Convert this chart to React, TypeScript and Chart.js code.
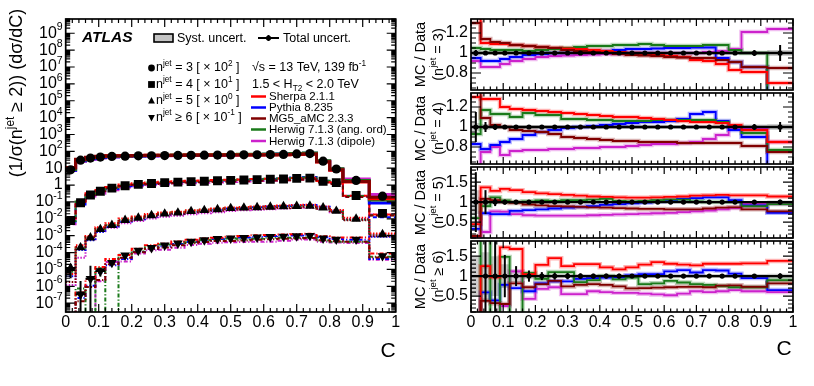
import React, { useEffect, useRef } from "react";
import { Chart, registerables } from "chart.js";

Chart.register(...registerables);

const FONT = "'Liberation Sans', Arial, Helvetica, sans-serif";

// ---------------- binning & tick labels ----------------
const binEdges = [0, 0.03, 0.06, 0.09, 0.12, 0.16, 0.2, 0.24, 0.28, 0.32, 0.36, 0.4, 0.44, 0.48, 0.52, 0.56, 0.6, 0.64, 0.68, 0.72, 0.76, 0.8, 0.84, 0.92, 1.0];
const xTickValues = [0, 0.1, 0.2, 0.3, 0.4, 0.5, 0.6, 0.7, 0.8, 0.9, 1];
const xTickLabels = ["0", "0.1", "0.2", "0.3", "0.4", "0.5", "0.6", "0.7", "0.8", "0.9", "1"];
const logTickExponents = [-7, -6, -5, -4, -3, -2, -1, 0, 1, 2, 3, 4, 5, 6, 7, 8, 9];
const ratioTicksNarrow = [0.8, 1, 1.2];
const ratioLabelsNarrow = ["0.8", "1", "1.2"];
const ratioTicksWide = [0.5, 1, 1.5];
const ratioLabelsWide = ["0.5", "1", "1.5"];

// ---------------- measured data (already multiplied by the legend factors) ----------------
const dataN3 = [8, 30, 40, 46, 50, 52, 54, 55, 56, 57, 58, 59, 60, 61, 62, 63, 64, 66, 70, 74, 26, 9, 1.9, 0.22];
const dataN4 = [0.008, 0.09, 0.26, 0.43, 0.66, 0.92, 1.1, 1.25, 1.4, 1.5, 1.6, 1.7, 1.8, 1.9, 2.0, 2.1, 2.2, 2.3, 2.5, 2.6, 1.7, 1.4, 0.24, 0.021];
const dataN5 = [1.2e-5, 2.0e-4, 7.6e-4, 2.4e-3, 4.2e-3, 8.3e-3, 0.0114, 0.016, 0.02, 0.023, 0.028, 0.032, 0.036, 0.042, 0.045, 0.048, 0.051, 0.054, 0.056, 0.058, 0.046, 0.029, 0.01, 1.2e-3];
const dataN6 = [null, 3.4e-7, 2.8e-6, 8.0e-6, 2.5e-5, 6.8e-5, 1.3e-4, 1.9e-4, 2.7e-4, 3.5e-4, 4.5e-4, 5.5e-4, 6.5e-4, 7.0e-4, 7.5e-4, 8.0e-4, 8.5e-4, 9.0e-4, 9.5e-4, 1.0e-3, 7.0e-4, 6.0e-4, 6.0e-4, 6.3e-5];

// relative total uncertainty of the data
const errN3 = [0.03, 0.02, 0.015, 0.015, 0.015, 0.015, 0.015, 0.015, 0.015, 0.015, 0.015, 0.015, 0.015, 0.015, 0.015, 0.015, 0.015, 0.015, 0.015, 0.015, 0.02, 0.02, 0.03, 0.08];
const errN4 = [0.15, 0.05, 0.03, 0.02, 0.02, 0.02, 0.02, 0.02, 0.02, 0.02, 0.02, 0.02, 0.02, 0.02, 0.02, 0.02, 0.02, 0.02, 0.02, 0.02, 0.02, 0.02, 0.03, 0.05];
const errN5 = [0.75, 0.3, 0.1, 0.06, 0.05, 0.04, 0.03, 0.03, 0.03, 0.03, 0.03, 0.03, 0.03, 0.03, 0.03, 0.03, 0.03, 0.03, 0.03, 0.03, 0.03, 0.03, 0.04, 0.06];
const errN6 = [0, 5, 5, 0.53, 0.25, 0.14, 0.1, 0.09, 0.08, 0.07, 0.06, 0.06, 0.06, 0.05, 0.05, 0.05, 0.05, 0.05, 0.05, 0.05, 0.05, 0.05, 0.05, 0.07];

// relative systematic uncertainty (grey band)
const sysN3 = [0.03, 0.02, 0.02, 0.02, 0.015, 0.015, 0.015, 0.015, 0.015, 0.015, 0.015, 0.015, 0.015, 0.015, 0.015, 0.015, 0.015, 0.015, 0.015, 0.015, 0.02, 0.02, 0.02, 0.03];
const sysN4 = [0.04, 0.03, 0.02, 0.02, 0.02, 0.02, 0.02, 0.02, 0.02, 0.02, 0.02, 0.02, 0.02, 0.02, 0.02, 0.02, 0.02, 0.02, 0.02, 0.02, 0.02, 0.02, 0.025, 0.03];
const sysN5 = [0.3, 0.1, 0.05, 0.04, 0.04, 0.03, 0.03, 0.03, 0.03, 0.03, 0.03, 0.03, 0.03, 0.03, 0.03, 0.03, 0.03, 0.03, 0.03, 0.03, 0.03, 0.03, 0.03, 0.04];
const sysN6 = [0.5, 0.6, 0.5, 0.3, 0.15, 0.08, 0.06, 0.05, 0.05, 0.05, 0.05, 0.05, 0.05, 0.05, 0.05, 0.05, 0.05, 0.05, 0.05, 0.05, 0.05, 0.05, 0.05, 0.06];

// MC / Data ratios
const sherpaN3 = [1.4, 1.1, 1.09, 1.09, 1.08, 1.07, 1.06, 1.05, 1.045, 1.04, 1.03, 1.02, 1.01, 1.0, 0.99, 0.98, 0.97, 0.96, 0.93, 0.92, 0.89, 0.83, 0.81, 0.7];
const pythiaN3 = [0.95, 0.92, 0.92, 0.94, 0.96, 0.98, 0.99, 1.0, 1.0, 1.01, 1.02, 1.02, 1.03, 1.04, 1.04, 1.045, 1.05, 1.05, 1.055, 1.055, 0.95, 0.91, 0.86, 0.4];
const mg5N3 = [1.3, 1.14, 1.11, 1.1, 1.08, 1.07, 1.06, 1.05, 1.03, 1.02, 1.01, 1.0, 0.99, 0.98, 0.975, 0.97, 0.96, 0.955, 0.95, 0.95, 0.93, 0.91, 0.86, 0.85];
const herwigAoN3 = [1.05, 1.04, 1.03, 1.03, 1.03, 1.02, 1.03, 1.04, 1.05, 1.06, 1.07, 1.07, 1.08, 1.08, 1.09, 1.08, 1.07, 1.07, 1.07, 1.08, 1.08, 1.03, 1.0, 0.6];
const herwigDiN3 = [0.92, 0.86, 0.86, 0.89, 0.92, 0.94, 0.96, 0.97, 0.975, 0.98, 0.985, 0.99, 0.99, 1.0, 1.0, 1.0, 1.0, 1.0, 1.0, 1.01, 1.02, 1.04, 1.21, 1.24];

const sherpaN4 = [1.3, 1.28, 1.28, 1.2, 1.18, 1.17, 1.16, 1.15, 1.14, 1.13, 1.12, 1.11, 1.1, 1.1, 1.09, 1.08, 1.07, 1.06, 1.05, 1.05, 1.04, 1.02, 0.97, 0.85];
const pythiaN4 = [0.83, 0.78, 0.82, 0.85, 0.88, 0.92, 0.95, 0.97, 0.99, 1.0, 1.01, 1.02, 1.03, 1.04, 1.05, 1.05, 1.06, 1.08, 1.13, 1.15, 1.06, 0.97, 0.9, 0.6];
const mg5N4 = [1.4, 1.09, 1.02, 1.0, 0.97, 0.96, 0.95, 0.93, 0.9, 0.89, 0.88, 0.87, 0.86, 0.86, 0.85, 0.85, 0.85, 0.84, 0.84, 0.84, 0.84, 0.84, 0.81, 0.75];
const herwigAoN4 = [0.93, 1.17, 1.13, 1.13, 1.1, 1.14, 1.12, 1.12, 1.08, 1.08, 1.07, 1.07, 1.06, 1.06, 1.06, 1.07, 1.07, 1.07, 1.07, 1.07, 1.05, 1.0, 0.94, 0.77];
const herwigDiN4 = [0.6, 0.75, 0.8, 0.72, 0.76, 0.77, 0.77, 0.78, 0.78, 0.79, 0.79, 0.8, 0.8, 0.81, 0.82, 0.83, 0.83, 0.84, 0.85, 0.88, 0.92, 0.99, 0.98, 0.85];

const sherpaN5 = [0.45, 1.37, 1.28, 1.33, 1.3, 1.25, 1.22, 1.2, 1.18, 1.16, 1.14, 1.13, 1.12, 1.11, 1.11, 1.12, 1.13, 1.14, 1.16, 1.17, 1.18, 1.17, 1.17, 1.14];
const pythiaN5 = [0.33, 0.72, 0.7, 0.7, 0.78, 0.8, 0.82, 0.84, 0.86, 0.88, 0.9, 0.93, 0.95, 0.97, 0.99, 1.02, 1.05, 1.08, 1.1, 1.12, 1.12, 1.05, 0.92, 0.73];
const mg5N5 = [0.15, 1.08, 1.05, 1.0, 0.98, 0.94, 0.92, 0.9, 0.89, 0.88, 0.87, 0.86, 0.85, 0.84, 0.83, 0.83, 0.82, 0.82, 0.82, 0.84, 0.86, 0.87, 0.82, 0.77];
const herwigAoN5 = [0.6, 0.9, 1.12, 1.04, 1.0, 1.02, 1.04, 1.03, 1.05, 1.05, 1.06, 1.08, 1.03, 1.02, 1.03, 1.05, 1.06, 1.06, 1.02, 1.0, 1.0, 1.0, 0.9, 0.95];
const herwigDiN5 = [0.1, 0.25, 0.77, 0.76, 0.7, 0.67, 0.66, 0.66, 0.66, 0.66, 0.67, 0.68, 0.69, 0.7, 0.71, 0.72, 0.73, 0.75, 0.77, 0.79, 0.82, 0.85, 0.96, 0.96];

const sherpaN6 = [0, 1.25, 0.97, 1.72, 1.68, 1.05, 1.28, 1.45, 1.25, 1.3, 1.3, 1.22, 1.17, 1.22, 1.29, 1.35, 1.31, 1.29, 1.27, 1.31, 1.31, 1.31, 1.32, 1.38];
const pythiaN6 = [0, 0.59, 0.39, 0.78, 0.7, 0.62, 0.82, 0.87, 0.87, 0.93, 0.95, 0.96, 0.97, 1.02, 1.05, 1.05, 1.12, 1.15, 1.09, 1.15, 1.14, 1.06, 0.95, 0.65];
const mg5N6 = [0, 0.38, 0.32, 0.3, 0.82, 0.72, 0.8, 0.88, 0.74, 0.78, 0.8, 0.78, 0.74, 0.69, 0.7, 0.71, 0.72, 0.73, 0.73, 0.72, 0.76, 0.77, 0.73, 0.82];
const herwigAoN6 = [0, 2.2, 0, 1.48, 0, 1.08, 0.93, 1.1, 1.1, 0.85, 0.9, 1.0, 0.92, 0.96, 0.8, 0.82, 0.88, 0.84, 0.8, 0.78, 0.75, 0.72, 0.72, 0.9];
const herwigDiN6 = [0, 0, 0, 0.25, 1.12, 0.43, 0.68, 0.72, 0.55, 0.55, 0.62, 0.6, 0.58, 0.58, 0.56, 0.54, 0.52, 0.56, 0.62, 0.6, 0.62, 0.65, 0.62, 0.6];

// ---------------- styling / configuration ----------------
const generators: any[] = [
  { name: "Sherpa 2.1.1", color: "#ff0000", halo: "rgba(255,0,0,0.3)", ratios: [sherpaN3, sherpaN4, sherpaN5, sherpaN6] },
  { name: "Pythia 8.235", color: "#0000ff", halo: "rgba(0,0,255,0.3)", ratios: [pythiaN3, pythiaN4, pythiaN5, pythiaN6] },
  { name: "MG5_aMC 2.3.3", color: "#800000", halo: "rgba(128,0,0,0.3)", ratios: [mg5N3, mg5N4, mg5N5, mg5N6] },
  { name: "Herwig 7.1.3 (ang. ord)", color: "#1a7a1a", halo: "rgba(26,122,26,0.3)", ratios: [herwigAoN3, herwigAoN4, herwigAoN5, herwigAoN6] },
  { name: "Herwig 7.1.3 (dipole)", color: "#cc22cc", halo: "rgba(204,34,204,0.3)", ratios: [herwigDiN3, herwigDiN4, herwigDiN5, herwigDiN6] },
];
// drawn from bottom (first) to top (last)
const drawBottomToTop = [4, 1, 3, 0, 2];

const multiplicities: any[] = [
  { data: dataN3, err: errN3, syst: sysN3, marker: { style: "circle", radius: 4.6, rotation: 0, legend: "circle" }, line: { width: 3, dash: [] }, rel: " = 3 [ × 10", exp: "2", title: " = 3)" },
  { data: dataN4, err: errN4, syst: sysN4, marker: { style: "rect", radius: 6.3, rotation: 0, legend: "rect" }, line: { width: 2, dash: [4, 3] }, rel: " = 4 [ × 10", exp: "1", title: " = 4)" },
  { data: dataN5, err: errN5, syst: sysN5, marker: { style: "triangle", radius: 5.6, rotation: 0, legend: "tri" }, line: { width: 2, dash: [1.5, 1.5] }, rel: " = 5 [ × 10", exp: "0", title: " = 5)" },
  { data: dataN6, err: errN6, syst: sysN6, marker: { style: "triangle", radius: 5.6, rotation: 180, legend: "triDown" }, line: { width: 2, dash: [4, 2, 1.2, 2] }, rel: " ≥ 6 [ × 10", exp: "-1", title: " ≥ 6)" },
];

const LEFT = { w: 410, h: 386, areaLeft: 65.7, areaRight: 395.7, areaTop: 19, areaBottom: 312, yMin: 3e-8, yMax: 7e9 };
const RIGHT = { x0: 410, w: 404, h: 386, areaLeft: 61, areaRight: 383 };
const ratioPanels: any[] = [
  { mult: 0, top: 19, bottom: 90, yMin: 0.63, yMax: 1.34, ticks: ratioTicksNarrow, labels: ratioLabelsNarrow, major: 0.2, minor: 0.05, xLabels: false },
  { mult: 1, top: 93, bottom: 164, yMin: 0.63, yMax: 1.34, ticks: ratioTicksNarrow, labels: ratioLabelsNarrow, major: 0.2, minor: 0.05, xLabels: false },
  { mult: 2, top: 167, bottom: 238, yMin: 0.1, yMax: 1.88, ticks: ratioTicksWide, labels: ratioLabelsWide, major: 0.5, minor: 0.1, xLabels: false },
  { mult: 3, top: 241, bottom: 312, yMin: 0.1, yMax: 1.88, ticks: ratioTicksWide, labels: ratioLabelsWide, major: 0.5, minor: 0.1, xLabels: true },
];

// ---------------- helpers ----------------
const binCenter = (i: number) => (binEdges[i] + binEdges[i + 1]) / 2;
function stepPoints(vals: any[]) {
  const pts = vals.map((v, i) => ({ x: binEdges[i], y: v }));
  pts.push({ x: binEdges[vals.length], y: vals[vals.length - 1] });
  return pts;
}

type Part = { t: string; sup?: boolean; sub?: boolean };
function partFont(p: Part, size: number, weight: string) {
  const s = p.sup || p.sub ? size * 0.66 : size;
  return `${weight} ${s}px ${FONT}`;
}
function drawRich(ctx: any, parts: Part[], x: number, y: number, size: number, align: string, weight = "") {
  const widths = parts.map((p) => {
    ctx.font = partFont(p, size, weight);
    return ctx.measureText(p.t).width;
  });
  const total = widths.reduce((a, b) => a + b, 0);
  let cx = align === "left" ? x : align === "center" ? x - total / 2 : x - total;
  ctx.textAlign = "left";
  ctx.textBaseline = "middle";
  parts.forEach((p, i) => {
    ctx.font = partFont(p, size, weight);
    const dy = p.sup ? -0.36 * size : p.sub ? 0.3 * size : 0;
    ctx.fillText(p.t, cx, y + dy);
    cx += widths[i];
  });
}

function drawMarker(ctx: any, kind: string, x: number, y: number, r: number) {
  ctx.beginPath();
  if (kind === "circle") ctx.arc(x, y, r, 0, Math.PI * 2);
  else if (kind === "rect") ctx.rect(x - r, y - r, 2 * r, 2 * r);
  else if (kind === "tri") {
    ctx.moveTo(x, y - r * 1.15);
    ctx.lineTo(x + r, y + r * 0.75);
    ctx.lineTo(x - r, y + r * 0.75);
    ctx.closePath();
  } else {
    ctx.moveTo(x, y + r * 1.15);
    ctx.lineTo(x + r, y - r * 0.75);
    ctx.lineTo(x - r, y - r * 0.75);
    ctx.closePath();
  }
  ctx.fill();
}

function xTickList(major: number, minor: number): [number, number][] {
  const out: [number, number][] = [];
  for (let k = 0; k <= 50; k++) out.push([k / 50, k % 5 === 0 ? major : minor]);
  return out;
}

function drawFrameAndTicks(ctx: any, a: any, xs: any, ys: any, xt: [number, number][], yt: [number, number][]) {
  ctx.save();
  ctx.strokeStyle = "#000";
  ctx.lineWidth = 1.2;
  ctx.beginPath();
  for (const [v, len] of xt) {
    const px = xs.getPixelForValue(v);
    ctx.moveTo(px, a.bottom);
    ctx.lineTo(px, a.bottom - len);
    ctx.moveTo(px, a.top);
    ctx.lineTo(px, a.top + len);
  }
  for (const [v, len] of yt) {
    const py = ys.getPixelForValue(v);
    ctx.moveTo(a.left, py);
    ctx.lineTo(a.left + len, py);
    ctx.moveTo(a.right, py);
    ctx.lineTo(a.right - len, py);
  }
  ctx.stroke();
  ctx.lineWidth = 1.7;
  ctx.strokeRect(a.left, a.top, a.right - a.left, a.bottom - a.top);
  ctx.restore();
}

// ---------------- left (distribution) chart ----------------
const leftPlugin = {
  id: "leftDecor",
  afterDatasetsDraw(chart: any) {
    const { ctx, chartArea: a, scales } = chart;
    const xs = scales.x;
    const ys = scales.y;
    ctx.save();
    ctx.beginPath();
    ctx.rect(a.left, a.top, a.right - a.left, a.bottom - a.top);
    ctx.clip();
    ctx.strokeStyle = "#000";
    ctx.lineWidth = 2;
    multiplicities.forEach((m) => {
      m.data.forEach((d: any, i: number) => {
        if (d == null) return;
        const e = m.err[i];
        const xc = xs.getPixelForValue(binCenter(i));
        const yHi = ys.getPixelForValue(d * (1 + e));
        const yLo = e < 1 ? ys.getPixelForValue(d * (1 - e)) : a.bottom + 5;
        ctx.beginPath();
        ctx.moveTo(xc, yHi);
        ctx.lineTo(xc, yLo);
        if (e >= 0.5) {
          const y = ys.getPixelForValue(d);
          ctx.moveTo(xs.getPixelForValue(binEdges[i]), y);
          ctx.lineTo(xs.getPixelForValue(binEdges[i + 1]), y);
        }
        ctx.stroke();
      });
    });
    ctx.restore();
  },
  afterDraw(chart: any) {
    const { ctx, chartArea: a, scales } = chart;
    const xs = scales.x;
    const ys = scales.y;
    const yt: [number, number][] = [];
    for (let e = -8; e <= 9; e++) {
      for (let k = 1; k <= 9; k++) {
        const v = k * Math.pow(10, e);
        if (v >= LEFT.yMin && v <= LEFT.yMax) yt.push([v, k === 1 ? 9 : 4.5]);
      }
    }
    drawFrameAndTicks(ctx, a, xs, ys, xTickList(8, 4), yt);

    ctx.save();
    ctx.fillStyle = "#000";
    // y tick labels
    logTickExponents.forEach((e) => {
      const py = ys.getPixelForValue(Math.pow(10, e));
      const parts: Part[] = e === 0 ? [{ t: "1" }] : e === 1 ? [{ t: "10" }] : [{ t: "10" }, { t: String(e), sup: true }];
      drawRich(ctx, parts, a.left - 3, py, 16, "right");
    });
    // x tick labels
    xTickValues.forEach((v, i) => {
      drawRich(ctx, [{ t: xTickLabels[i] }], xs.getPixelForValue(v), a.bottom + 11, 16, "center");
    });
    drawRich(ctx, [{ t: "C" }], 388, 351, 21, "center");

    // y title
    ctx.save();
    ctx.translate(17, 93);
    ctx.rotate(-Math.PI / 2);
    drawRich(ctx, [{ t: "(1/σ(n" }, { t: "jet", sup: true }, { t: " ≥ 2)) (dσ/dC)" }], 0, 0, 18, "center");
    ctx.restore();

    // ATLAS label & uncertainty legend
    drawRich(ctx, [{ t: "ATLAS" }], 82, 38, 15.5, "left", "italic bold");
    ctx.fillStyle = "#c4c4c4";
    ctx.fillRect(154, 34, 19, 8);
    ctx.strokeStyle = "#000";
    ctx.lineWidth = 1.6;
    ctx.strokeRect(154, 34, 19, 8);
    ctx.fillStyle = "#000";
    drawRich(ctx, [{ t: "Syst. uncert." }], 177, 38.5, 12.5, "left");
    ctx.lineWidth = 1.8;
    ctx.beginPath();
    ctx.moveTo(258, 38);
    ctx.lineTo(279, 38);
    ctx.moveTo(268.5, 35);
    ctx.lineTo(268.5, 41);
    ctx.stroke();
    drawMarker(ctx, "circle", 268.5, 38, 2.6);
    drawRich(ctx, [{ t: "Total uncert." }], 283, 38.5, 12.5, "left");

    // multiplicity legend
    const rowsY = [68, 84.5, 101, 117.5];
    multiplicities.forEach((m, i) => {
      drawMarker(ctx, m.marker.legend, 151.5, rowsY[i], 3.4);
      drawRich(ctx, [{ t: "n" }, { t: "jet", sup: true }, { t: m.rel }, { t: m.exp, sup: true }, { t: " ]" }], 156, rowsY[i], 12.5, "left");
    });
    drawRich(ctx, [{ t: "√s = 13 TeV, 139 fb" }, { t: "-1", sup: true }], 252, 68, 12.5, "left");
    drawRich(ctx, [{ t: "1.5 < H" }, { t: "T2", sub: true }, { t: " < 2.0 TeV" }], 252, 85, 12.5, "left");

    // generator legend
    const genY = [96.5, 107.5, 118.5, 129.5, 141];
    generators.forEach((g, i) => {
      ctx.strokeStyle = g.color;
      ctx.lineWidth = 2.5;
      ctx.beginPath();
      ctx.moveTo(251, genY[i]);
      ctx.lineTo(266, genY[i]);
      ctx.stroke();
      ctx.fillStyle = "#000";
      drawRich(ctx, [{ t: g.name }], 269, genY[i] + 0.5, 11.5, "left");
    });
    ctx.restore();
  },
};

function makeLeftConfig(): any {
  const datasets: any[] = [];
  multiplicities.forEach((m) => {
    datasets.push({
      data: m.data.map((v: any, i: number) => ({ x: binCenter(i), y: v })),
      showLine: false,
      pointStyle: m.marker.style,
      pointRadius: m.marker.radius,
      pointRotation: m.marker.rotation,
      pointBackgroundColor: "#000",
      pointBorderColor: "#000",
      pointBorderWidth: 0,
      order: 0,
    });
  });
  multiplicities.forEach((m, mi) => {
    [...drawBottomToTop].reverse().forEach((gi) => {
      const g = generators[gi];
      const vals = m.data.map((d: any, i: number) => Math.max((d ?? 0) * g.ratios[mi][i], 1e-12));
      datasets.push({
        data: stepPoints(vals),
        stepped: true,
        borderColor: g.color,
        borderWidth: m.line.width,
        borderDash: m.line.dash,
        pointRadius: 0,
        fill: false,
        order: 1,
      });
    });
  });
  return {
    type: "line",
    data: { datasets },
    options: {
      animation: false,
      responsive: false,
      events: [],
      layout: { padding: { left: LEFT.areaLeft, top: LEFT.areaTop, right: LEFT.w - LEFT.areaRight, bottom: LEFT.h - LEFT.areaBottom } },
      plugins: { legend: { display: false }, tooltip: { enabled: false } },
      scales: {
        x: { type: "linear", min: 0, max: 1, display: false },
        y: { type: "logarithmic", min: LEFT.yMin, max: LEFT.yMax, display: false },
      },
    },
    plugins: [leftPlugin],
  };
}

// ---------------- ratio panels ----------------
function makeRatioPlugin(p: any) {
  const m = multiplicities[p.mult];
  return {
    id: "ratioDecor" + p.mult,
    afterDatasetsDraw(chart: any) {
      const { ctx, chartArea: a, scales } = chart;
      const xs = scales.x;
      const ys = scales.y;
      ctx.save();
      ctx.beginPath();
      ctx.rect(a.left, a.top, a.right - a.left, a.bottom - a.top);
      ctx.clip();
      ctx.strokeStyle = "#000";
      ctx.lineWidth = 2;
      m.data.forEach((d: any, i: number) => {
        if (d == null) return;
        const e = m.err[i];
        const xc = xs.getPixelForValue(binCenter(i));
        ctx.beginPath();
        ctx.moveTo(xc, ys.getPixelForValue(1 + e));
        ctx.lineTo(xc, ys.getPixelForValue(1 - e));
        ctx.stroke();
      });
      ctx.restore();
    },
    afterDraw(chart: any) {
      const { ctx, chartArea: a, scales } = chart;
      const xs = scales.x;
      const ys = scales.y;
      const yt: [number, number][] = [];
      const k0 = Math.ceil(p.yMin / p.minor - 1e-6);
      const k1 = Math.floor(p.yMax / p.minor + 1e-6);
      for (let k = k0; k <= k1; k++) {
        const v = k * p.minor;
        const r = v / p.major;
        const isMajor = Math.abs(r - Math.round(r)) < 1e-6;
        yt.push([v, isMajor ? 10 : 5]);
      }
      drawFrameAndTicks(ctx, a, xs, ys, xTickList(7, 3.5), yt);
      ctx.save();
      ctx.fillStyle = "#000";
      p.ticks.forEach((v: number, i: number) => {
        drawRich(ctx, [{ t: p.labels[i] }], a.left - 3, ys.getPixelForValue(v), 16, "right");
      });
      const cy = (a.top + a.bottom) / 2;
      ctx.save();
      ctx.translate(11, cy);
      ctx.rotate(-Math.PI / 2);
      drawRich(ctx, [{ t: "MC / Data" }], 0, 0, 14.5, "center");
      ctx.restore();
      ctx.save();
      ctx.translate(29, cy);
      ctx.rotate(-Math.PI / 2);
      drawRich(ctx, [{ t: "(n" }, { t: "jet", sup: true }, { t: m.title }], 0, 0, 14.5, "center");
      ctx.restore();
      if (p.xLabels) {
        xTickValues.forEach((v, i) => {
          drawRich(ctx, [{ t: xTickLabels[i] }], xs.getPixelForValue(v), a.bottom + 11, 16, "center");
        });
        drawRich(ctx, [{ t: "C" }], 374, 349, 21, "center");
      }
      ctx.restore();
    },
  };
}

function makeRatioConfig(p: any): any {
  const m = multiplicities[p.mult];
  const datasets: any[] = [];
  datasets.push({
    data: m.data.map((d: any, i: number) => ({ x: binCenter(i), y: d == null ? null : 1 })),
    showLine: false,
    pointRadius: 2.6,
    pointBackgroundColor: "#000",
    pointBorderWidth: 0,
    order: 0,
  });
  datasets.push({
    data: stepPoints(m.data.map(() => 1)),
    stepped: true,
    borderColor: "#000",
    borderWidth: 2.4,
    pointRadius: 0,
    fill: false,
    order: 1,
  });
  [...drawBottomToTop].reverse().forEach((gi) => {
    const g = generators[gi];
    datasets.push({ data: stepPoints(g.ratios[p.mult]), stepped: true, borderColor: g.color, borderWidth: 1.8, pointRadius: 0, fill: false, order: 2 });
  });
  [...drawBottomToTop].reverse().forEach((gi) => {
    const g = generators[gi];
    datasets.push({ data: stepPoints(g.ratios[p.mult]), stepped: true, borderColor: g.halo, borderWidth: 4.5, pointRadius: 0, fill: false, order: 3 });
  });
  datasets.push({
    data: stepPoints(m.syst.map((s: number) => 1 - s)),
    stepped: true,
    borderColor: "rgba(0,0,0,0)",
    borderWidth: 1,
    pointRadius: 0,
    fill: false,
    order: 4,
  });
  datasets.push({
    data: stepPoints(m.syst.map((s: number) => 1 + s)),
    stepped: true,
    borderColor: "rgba(0,0,0,0)",
    borderWidth: 1,
    pointRadius: 0,
    fill: "-1",
    backgroundColor: "rgba(190,190,190,0.75)",
    order: 4,
  });
  return {
    type: "line",
    data: { datasets },
    options: {
      animation: false,
      responsive: false,
      events: [],
      layout: { padding: { left: RIGHT.areaLeft, top: p.top, right: RIGHT.w - RIGHT.areaRight, bottom: RIGHT.h - p.bottom } },
      plugins: { legend: { display: false }, tooltip: { enabled: false } },
      scales: {
        x: { type: "linear", min: 0, max: 1, display: false },
        y: { type: "linear", min: p.yMin, max: p.yMax, display: false },
      },
    },
    plugins: [makeRatioPlugin(p)],
  };
}

// ---------------- components ----------------
function ChartCanvas({ make, left, top, width, height }: any) {
  const ref = useRef<HTMLCanvasElement | null>(null);
  useEffect(() => {
    if (!ref.current) return;
    const chart = new Chart(ref.current, make());
    return () => chart.destroy();
  }, []);
  return <canvas ref={ref} width={width} height={height} style={{ position: "absolute", left, top, width, height }} />;
}

export default function App() {
  return (
    <div style={{ position: "absolute", left: 0, top: 0, width: 814, height: 386, background: "#fff", overflow: "hidden" }}>
      <ChartCanvas make={makeLeftConfig} left={0} top={0} width={LEFT.w} height={LEFT.h} />
      {ratioPanels.map((p, i) => (
        <ChartCanvas key={i} make={() => makeRatioConfig(p)} left={RIGHT.x0} top={0} width={RIGHT.w} height={RIGHT.h} />
      ))}
    </div>
  );
}
